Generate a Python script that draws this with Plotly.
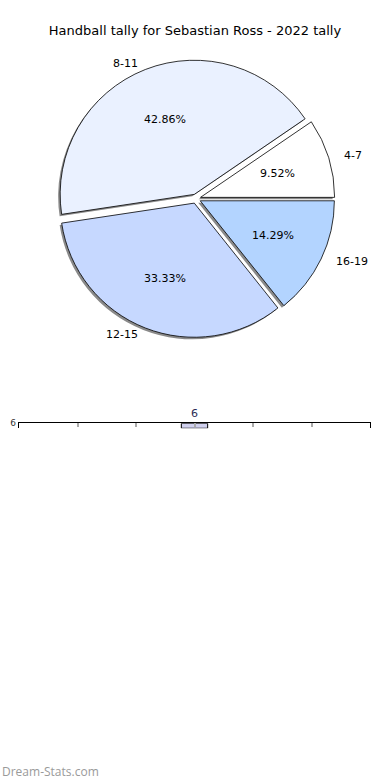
import math
import plotly.graph_objects as go

# ---- data ----
age_groups = ["4-7", "8-11", "12-15", "16-19"]
tally_counts = [2, 9, 7, 3]
slice_colors = ["#ffffff", "#eaf1ff", "#c6d8ff", "#b3d4ff"]

bar_positions = [0]
bar_values = [6]
bar_labels = ["6"]
x_tick_positions = [-3, -2, -1, 0, 1, 2, 3]
y_tick_values = [6]
y_tick_labels = ["6"]

title_text = "Handball tally for Sebastian Ross - 2022 tally"
watermark = "Dream-Stats.com"

W, H = 390, 780
FONT = "DejaVu Sans"

# pie geometry (pixels)
cx, cy, r = 196, 195, 135
pull = 0.035
half = r * (1 + pull)
total = sum(tally_counts)
rotation = 90 - 360 * tally_counts[0] / total


def dom_x(a, b):
    return [a / W, b / W]


def dom_y(top, bottom):
    return [1 - bottom / H, 1 - top / H]


fig = go.Figure()

# shadow
sx, sy = -2, 2
fig.add_trace(go.Pie(
    labels=age_groups, values=tally_counts, sort=False, direction="counterclockwise",
    rotation=rotation, pull=[pull] * len(tally_counts),
    marker=dict(colors=["#8a8a8a"] * len(tally_counts), line=dict(width=0)),
    textinfo="none", hoverinfo="skip", showlegend=False,
    domain=dict(x=dom_x(cx - half + sx, cx + half + sx), y=dom_y(cy - half + sy, cy + half + sy)),
))

# main pie
fig.add_trace(go.Pie(
    labels=age_groups, values=tally_counts, sort=False, direction="counterclockwise",
    rotation=rotation, pull=[pull] * len(tally_counts),
    marker=dict(colors=slice_colors, line=dict(color="#000000", width=0.8)),
    textinfo="none", hoverinfo="label+percent", showlegend=False,
    domain=dict(x=dom_x(cx - half, cx + half), y=dom_y(cy - half, cy + half)),
))

annotations = []
start = 0.0
for lab, val in zip(age_groups, tally_counts):
    frac = val / total
    mid = (start + frac / 2) * 2 * math.pi
    start += frac
    c, s = math.cos(mid), math.sin(mid)
    lx = cx + r * (1.1 + pull) * c
    ly = cy - r * (1.05 + pull) * s
    annotations.append(dict(
        x=lx / W, y=1 - ly / H, xref="paper", yref="paper", text=lab, showarrow=False,
        xanchor="left" if c > 0 else "right", yanchor="middle",
        font=dict(family=FONT, size=11, color="#000000"),
    ))
    px = cx + r * (0.6 + pull) * c
    py = cy - r * (0.6 + pull) * s
    annotations.append(dict(
        x=px / W, y=1 - py / H, xref="paper", yref="paper", text=f"{frac * 100:.2f}%",
        showarrow=False, xanchor="center", yanchor="middle",
        font=dict(family=FONT, size=11, color="#000000"),
    ))

annotations.append(dict(
    x=0 / W, y=1 - 771 / H, xref="paper", yref="paper", text=watermark, showarrow=False,
    xanchor="left", yanchor="middle", font=dict(family="Open Sans", size=12, color="#9a9a9a"),
))

# bar subplot
fig.add_trace(go.Bar(
    x=bar_positions, y=bar_values, width=0.45, xaxis="x", yaxis="y",
    marker=dict(color="#d0d0ee", line=dict(color="#000000", width=1)),
    text=bar_labels, textposition="outside", cliponaxis=False,
    textfont=dict(family=FONT, size=11, color="#2b2b55"),
    showlegend=False, hoverinfo="skip",
))

fig.update_layout(
    width=W, height=H,
    margin=dict(l=0, r=0, t=0, b=0),
    paper_bgcolor="#ffffff", plot_bgcolor="#ffffff",
    title=dict(text=title_text, x=0.5, xanchor="center", y=1 - 30 / H, yanchor="middle",
               font=dict(family=FONT, size=13, color="#000000")),
    annotations=annotations,
    xaxis=dict(domain=dom_x(19, 370), range=[-3, 3], tickvals=x_tick_positions,
               showticklabels=False, side="top", ticks="inside", ticklen=4,
               tickcolor="#aaaaaa", tickwidth=1.5, showline=True, linecolor="#000000",
               linewidth=1.2, showgrid=False, zeroline=False, fixedrange=True),
    yaxis=dict(domain=dom_y(421, 426), range=[0, 6], tickvals=y_tick_values,
               ticktext=y_tick_labels, showline=True, mirror=True, linecolor="#000000",
               linewidth=1.2, ticks="", showgrid=False, zeroline=False,
               tickfont=dict(family=FONT, size=9, color="#333333"), fixedrange=True),
)

fig.write_html(
    "out.html",
    config={"displayModeBar": False},
    post_script="document.body.style.margin='0';document.body.style.overflow='hidden';",
)
